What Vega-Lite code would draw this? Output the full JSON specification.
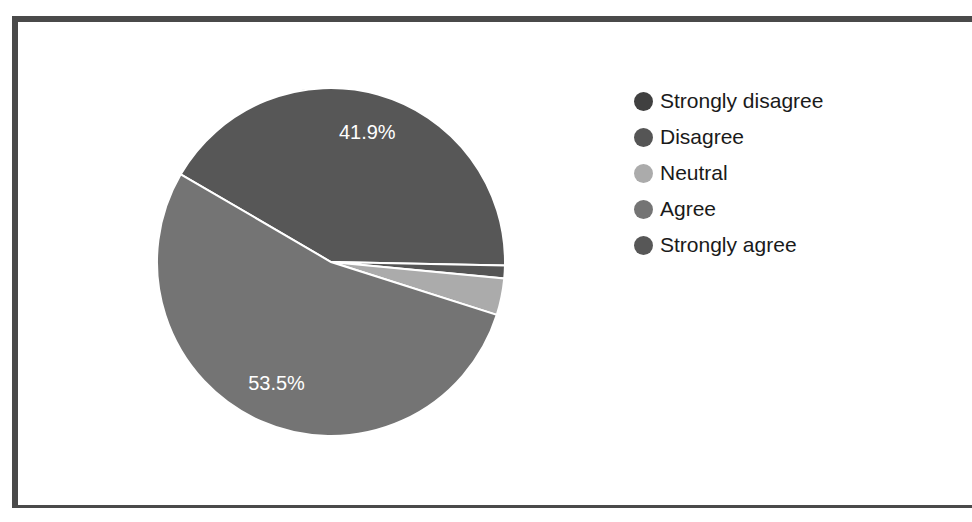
{
  "$schema": "https://vega.github.io/schema/vega-lite/v6.json",
  "width": 970,
  "height": 489,
  "autosize": {"type": "none"},
  "padding": {"left": 15, "top": 19, "right": 0, "bottom": 0},
  "background": "#ffffff",
  "config": {
    "view": {"stroke": "#4a4a4a", "strokeWidth": 6},
    "font": "Liberation Sans"
  },
  "data": {
    "values": [
      {"response": "Strongly agree", "value": 41.9, "ord": 1, "label": "41.9%"},
      {"response": "Disagree", "value": 1.2, "ord": 2, "label": ""},
      {"response": "Neutral", "value": 3.4, "ord": 3, "label": ""},
      {"response": "Agree", "value": 53.5, "ord": 4, "label": "53.5%"}
    ]
  },
  "encoding": {
    "theta": {"field": "value", "type": "quantitative", "stack": true, "scale": {"range": [5.241, 11.524]}},
    "order": {"field": "ord", "type": "quantitative"},
    "x": {"datum": 316, "type": "quantitative", "scale": {"domain": [0, 970]}, "axis": null},
    "y": {"datum": 243, "type": "quantitative", "scale": {"domain": [489, 0]}, "axis": null}
  },
  "layer": [
    {
      "mark": {"type": "arc", "radius": 174, "stroke": "#ffffff", "strokeWidth": 2},
      "encoding": {
        "color": {
          "field": "response",
          "type": "nominal",
          "scale": {
            "domain": ["Strongly disagree", "Disagree", "Neutral", "Agree", "Strongly agree"],
            "range": ["#404040", "#555555", "#ababab", "#747474", "#575757"]
          },
          "legend": {
            "title": null,
            "orient": "none",
            "legendX": 618,
            "legendY": 72,
            "symbolType": "circle",
            "symbolSize": 360,
            "symbolStrokeWidth": 0,
            "labelFontSize": 21,
            "labelColor": "#1a1a1a",
            "labelFont": "Liberation Sans",
            "labelOffset": 6,
            "labelLimit": 400,
            "rowPadding": 14,
            "padding": 0
          }
        }
      }
    },
    {
      "mark": {"type": "text", "radius": 134, "color": "#ffffff", "fontSize": 20, "font": "Liberation Sans"},
      "encoding": {
        "text": {"field": "label"}
      }
    }
  ]
}
